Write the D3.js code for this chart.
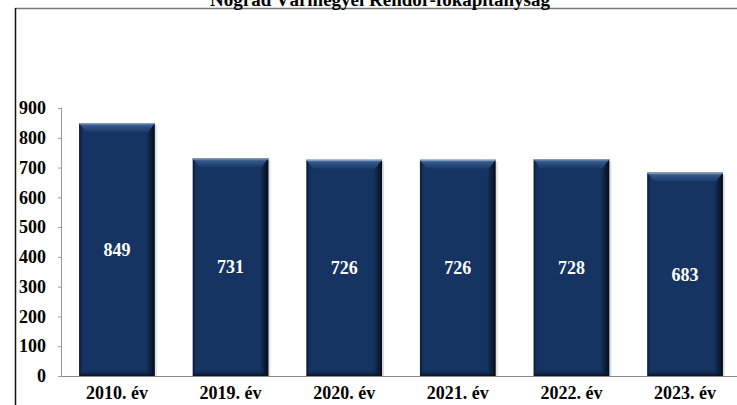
<!DOCTYPE html>
<html><head><meta charset="utf-8">
<script src="https://cdn.jsdelivr.net/npm/d3@7"></script>
<style>html,body{margin:0;padding:0;background:#fff;overflow:hidden}</style>
</head><body><svg id="c" width="737" height="405"></svg>
<script>
const title = "Nógrád Vármegyei Rendőr-főkapitányság";
const categories = ["2010. év","2019. év","2020. év","2021. év","2022. év","2023. év"];
const values = [849, 731, 726, 726, 728, 683];
const yTicks = [0,100,200,300,400,500,600,700,800,900];

const svg = d3.select("#c");
const font = "Liberation Serif, Times New Roman, DejaVu Serif, serif";
const x = d3.scaleBand().domain(categories).range([62, 740]).paddingInner(0.333).paddingOuter(0.15);
const y = d3.scaleLinear().domain([0, 900]).range([376, 108]);

// frame
svg.append("line").attr("x1",15).attr("x2",737).attr("y1",8.5).attr("y2",8.5).attr("stroke","#777").attr("stroke-width",1.5);
svg.append("line").attr("x1",15.5).attr("x2",15.5).attr("y1",8).attr("y2",405).attr("stroke","#111").attr("stroke-width",1.5);

// title (clipped at top like the reference)
svg.append("text").attr("x",380).attr("y",5.5).attr("text-anchor","middle")
  .style("font-family",font).attr("font-weight","bold").attr("font-size",19).attr("fill","#000").text(title);

// y axis
const yAxis = svg.append("g").attr("transform","translate(62,0)")
  .call(d3.axisLeft(y).tickValues(yTicks).tickSize(4).tickPadding(12).tickFormat(d3.format("d")));
yAxis.select(".domain").attr("stroke","#999").attr("d","M-0.5,"+y(900)+"V"+y(0));
yAxis.selectAll(".tick line").attr("stroke","#999");
yAxis.selectAll(".tick text").style("font-family",font).attr("font-weight","bold").attr("font-size",18).attr("fill","#000").attr("x",-16);

// x axis
const xAxis = svg.append("g").attr("transform","translate(0,"+y(0)+")")
  .call(d3.axisBottom(x).tickSize(0).tickPadding(10));
xAxis.select(".domain").attr("stroke","#888").attr("stroke-width",1.2).attr("d","M62,0.5H737");
xAxis.selectAll(".tick text").style("font-family",font).attr("font-weight","bold").attr("font-size",18).attr("fill","#000");

// gradients
const defs = svg.append("defs");
const gh = defs.append("linearGradient").attr("id","gh").attr("x1",0).attr("x2",1).attr("y1",0).attr("y2",0);
gh.append("stop").attr("offset","0").attr("stop-color","#0b1c36");
gh.append("stop").attr("offset","0.05").attr("stop-color","#163462");
gh.append("stop").attr("offset","0.88").attr("stop-color","#163462");
gh.append("stop").attr("offset","0.95").attr("stop-color","#0c1d38");
gh.append("stop").attr("offset","1").attr("stop-color","#040b18");
const gt = defs.append("linearGradient").attr("id","gt").attr("x1",0).attr("x2",0).attr("y1",0).attr("y2",1);
gt.append("stop").attr("offset","0").attr("stop-color","#5f7fa8");
gt.append("stop").attr("offset","0.35").attr("stop-color","#2f5485");
gt.append("stop").attr("offset","1").attr("stop-color","#1a3968");
const gb = defs.append("linearGradient").attr("id","gb").attr("x1",0).attr("x2",0).attr("y1",0).attr("y2",1);
gb.append("stop").attr("offset","0").attr("stop-color","#163462").attr("stop-opacity",0);
gb.append("stop").attr("offset","1").attr("stop-color","#050d1c").attr("stop-opacity",0.9);

const bev = 7;
const bars = svg.append("g").selectAll("g").data(values).join("g");
bars.append("rect")
  .attr("x",(d,i)=>x(categories[i])+2).attr("y",d=>y(d)+2)
  .attr("width",x.bandwidth()).attr("height",d=>y(0)-y(d)-2)
  .attr("fill","#c9ccd2").attr("opacity",0.6);
bars.append("rect")
  .attr("x",(d,i)=>x(categories[i])).attr("y",d=>y(d))
  .attr("width",x.bandwidth()).attr("height",d=>y(0)-y(d))
  .attr("fill","url(#gh)");
bars.append("path").attr("d",(d,i)=>{
  const x0=x(categories[i]), x1=x0+x.bandwidth(), t=y(d);
  return `M${x0},${t}H${x1}L${x1-bev},${t+bev+2}H${x0+bev}Z`;
}).attr("fill","url(#gt)");
bars.append("path").attr("d",(d,i)=>{
  const x0=x(categories[i]), x1=x0+x.bandwidth(), b=y(0);
  return `M${x0},${b}H${x1}L${x1-bev},${b-bev}H${x0+bev}Z`;
}).attr("fill","url(#gb)");
bars.append("line")
  .attr("x1",(d,i)=>x(categories[i])).attr("x2",(d,i)=>x(categories[i])+x.bandwidth())
  .attr("y1",d=>y(d)+0.5).attr("y2",d=>y(d)+0.5).attr("stroke","#8ea4c2").attr("stroke-width",1);

// value labels
svg.append("g").selectAll("text").data(values).join("text")
  .attr("x",(d,i)=>x(categories[i])+x.bandwidth()/2)
  .attr("y",d=>(y(d)+y(0))/2).attr("dy","0.35em")
  .attr("text-anchor","middle").style("font-family",font).attr("font-weight","bold")
  .attr("font-size",18).attr("fill","#fff").text(d=>d);
</script></body></html>
